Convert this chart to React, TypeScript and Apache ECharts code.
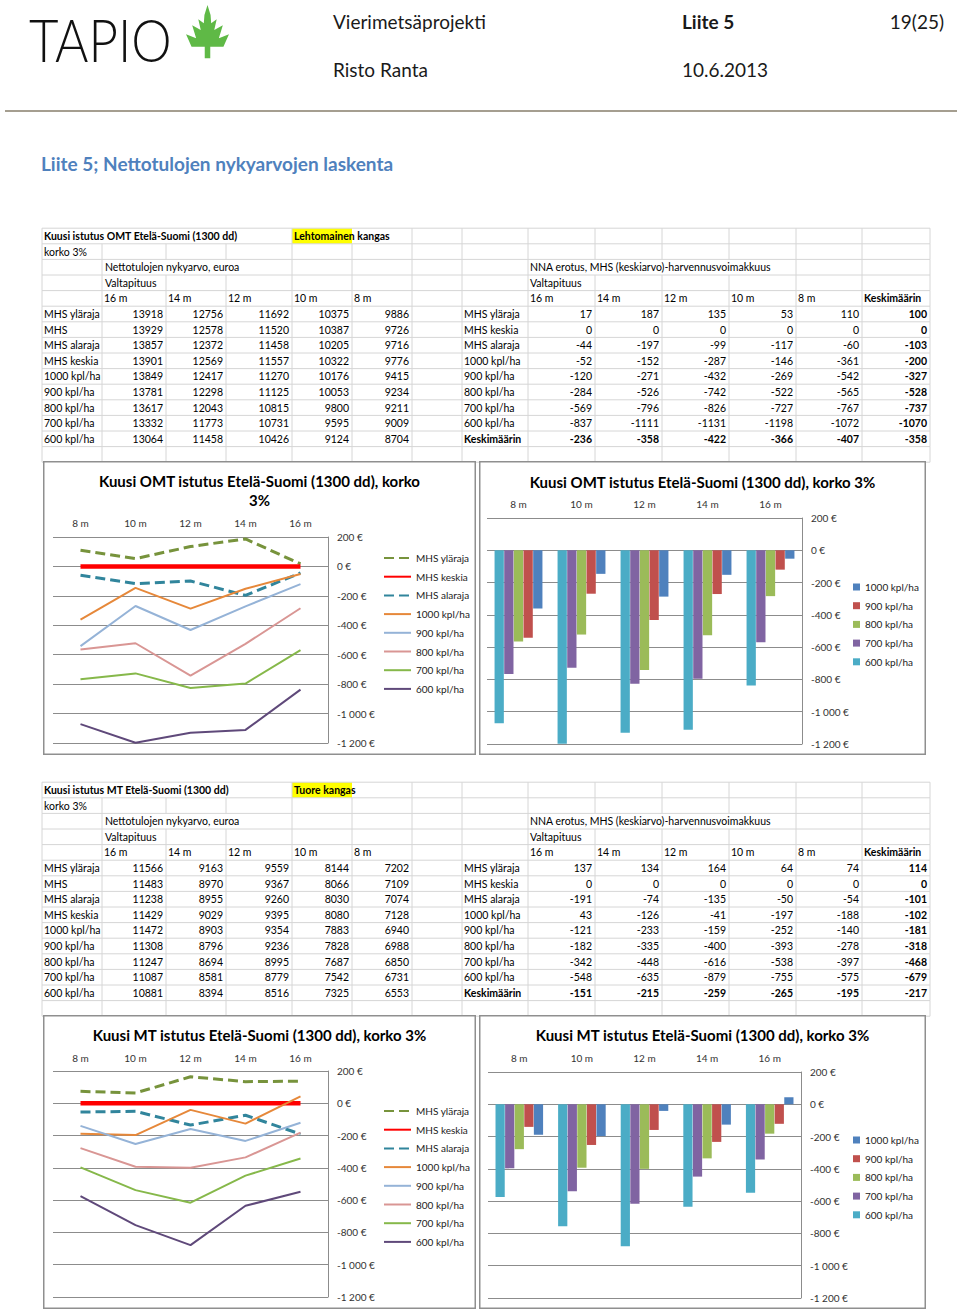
import React, { useEffect, useRef } from "react";
import * as echarts from "echarts";

// ---------- DATA ----------
const HEIGHTS = ["16 m", "14 m", "12 m", "10 m", "8 m"];
const CHART_CATS = [...HEIGHTS].reverse();
const NPV_LABELS = ["MHS yläraja", "MHS", "MHS alaraja", "MHS keskia", "1000 kpl/ha", "900 kpl/ha", "800 kpl/ha", "700 kpl/ha", "600 kpl/ha"];
const DIFF_LABELS = ["MHS yläraja", "MHS keskia", "MHS alaraja", "1000 kpl/ha", "900 kpl/ha", "800 kpl/ha", "700 kpl/ha", "600 kpl/ha", "Keskimäärin"];

const OMT_NPV = [
  [13918, 12756, 11692, 10375, 9886],
  [13929, 12578, 11520, 10387, 9726],
  [13857, 12372, 11458, 10205, 9716],
  [13901, 12569, 11557, 10322, 9776],
  [13849, 12417, 11270, 10176, 9415],
  [13781, 12298, 11125, 10053, 9234],
  [13617, 12043, 10815, 9800, 9211],
  [13332, 11773, 10731, 9595, 9009],
  [13064, 11458, 10426, 9124, 8704],
];
const OMT_DIFF = [
  [17, 187, 135, 53, 110, 100],
  [0, 0, 0, 0, 0, 0],
  [-44, -197, -99, -117, -60, -103],
  [-52, -152, -287, -146, -361, -200],
  [-120, -271, -432, -269, -542, -327],
  [-284, -526, -742, -522, -565, -528],
  [-569, -796, -826, -727, -767, -737],
  [-837, -1111, -1131, -1198, -1072, -1070],
  [-236, -358, -422, -366, -407, -358],
];
const MT_NPV = [
  [11566, 9163, 9559, 8144, 7202],
  [11483, 8970, 9367, 8066, 7109],
  [11238, 8955, 9260, 8030, 7074],
  [11429, 9029, 9395, 8080, 7128],
  [11472, 8903, 9354, 7883, 6940],
  [11308, 8796, 9236, 7828, 6988],
  [11247, 8694, 8995, 7687, 6850],
  [11087, 8581, 8779, 7542, 6731],
  [10881, 8394, 8516, 7325, 6553],
];
const MT_DIFF = [
  [137, 134, 164, 64, 74, 114],
  [0, 0, 0, 0, 0, 0],
  [-191, -74, -135, -50, -54, -101],
  [43, -126, -41, -197, -188, -102],
  [-121, -233, -159, -252, -140, -181],
  [-182, -335, -400, -393, -278, -318],
  [-342, -448, -616, -538, -397, -468],
  [-548, -635, -879, -755, -575, -679],
  [-151, -215, -259, -265, -195, -217],
];

// ---------- STYLES ----------
const FF = "Lato, 'Open Sans', sans-serif";
const LINE_STYLES: any[] = [
  { color: "#77933c", width: 3, type: [10, 5] },
  { color: "#ff0000", width: 4.5, type: "solid" },
  { color: "#31859c", width: 3, type: [10, 5] },
  { color: "#e6883a", width: 2, type: "solid" },
  { color: "#95b3d7", width: 2, type: "solid" },
  { color: "#d99694", width: 2, type: "solid" },
  { color: "#86b84a", width: 2, type: "solid" },
  { color: "#5f497a", width: 2, type: "solid" },
];
const BAR_COLORS: Record<number, string> = { 3: "#4f81bd", 4: "#c0504d", 5: "#9bbb59", 6: "#8064a2", 7: "#4bacc6" };

const RH = 15.6;
const EDGES = [42, 102, 166, 226, 292, 352, 412, 462, 528, 595, 662, 729, 796, 862, 930];
const COLS_L = [42, 102, 166, 226, 292, 352, 412];
const COLS_R = [462, 528, 595, 662, 729, 796, 862, 930];

function fmtEuro(v: number) {
  const s = Math.abs(v).toString().replace(/\B(?=(\d{3})+(?!\d))/g, " ");
  return (v < 0 ? "-" : "") + s + " €";
}

function txt(text: string, x: number, y: number, size: number, opts: any = {}) {
  const align = opts.align || "left";
  const weight = opts.bold ? "bold" : opts.weight || "normal";
  return {
    type: "text",
    x,
    y,
    silent: true,
    z: 5,
    scaleX: opts.scaleX || 1,
    scaleY: opts.scaleY || 1,
    style: {
      text,
      font: `${weight} ${size}px ${FF}`,
      fill: opts.color || "#000",
      textAlign: align,
      align,
      textVerticalAlign: "middle",
      verticalAlign: "middle",
    },
  };
}
function ln(x1: number, y1: number, x2: number, y2: number, color = "#d6d6d6", w = 1) {
  return { type: "line", silent: true, z: 1, shape: { x1, y1, x2, y2 }, style: { stroke: color, lineWidth: w } };
}

function tableElements(T0: number, title: string, site: string, npv: number[][], diff: number[][]) {
  const els: any[] = [];
  const rowY = (i: number) => T0 + i * RH;
  const mid = (i: number) => T0 + (i + 0.5) * RH;
  els.push({ type: "rect", silent: true, z: 0, shape: { x: 292, y: rowY(0), width: 60, height: RH }, style: { fill: "#ffff00" } });
  for (let i = 0; i <= 15; i++) els.push(ln(42, rowY(i), 930, rowY(i)));
  const skip: Record<number, number[]> = { 0: [102, 166, 226, 352], 2: [166, 226, 595, 662, 729] };
  for (let i = 0; i < 15; i++) {
    for (const e of EDGES) {
      if ((skip[i] || []).includes(e)) continue;
      els.push(ln(e, rowY(i), e, rowY(i + 1)));
    }
  }
  const fs = 10.5;
  els.push(txt(title, 44, mid(0), fs, { bold: true }));
  els.push(txt(site, 294, mid(0), fs, { bold: true }));
  els.push(txt("korko 3%", 44, mid(1), fs));
  els.push(txt("Nettotulojen nykyarvo, euroa", 105, mid(2), fs));
  els.push(txt("NNA erotus, MHS (keskiarvo)-harvennusvoimakkuus", 530, mid(2), fs));
  els.push(txt("Valtapituus", 105, mid(3), fs));
  els.push(txt("Valtapituus", 530, mid(3), fs));
  HEIGHTS.forEach((h, c) => {
    els.push(txt(h, COLS_L[c + 1] + 2, mid(4), fs));
    els.push(txt(h, COLS_R[c + 1] + 2, mid(4), fs));
  });
  els.push(txt("Keskimäärin", 864, mid(4), fs, { bold: true }));
  NPV_LABELS.forEach((lab, r) => {
    els.push(txt(lab, 44, mid(5 + r), fs));
    npv[r].forEach((v, c) => els.push(txt(String(v), COLS_L[c + 2] - 3, mid(5 + r), fs, { align: "right" })));
  });
  DIFF_LABELS.forEach((lab, r) => {
    const lastRow = r === DIFF_LABELS.length - 1;
    els.push(txt(lab, 464, mid(5 + r), fs, { bold: lastRow }));
    diff[r].forEach((v, c) =>
      els.push(txt(String(v), COLS_R[c + 2] - 3, mid(5 + r), fs, { align: "right", bold: lastRow || c === 5 }))
    );
  });
  return els;
}

// tree logo outline (zoomed reference coords -> page coords)
const TREE_Z = [
  [88, 15], [98, 45], [100, 70], [118, 58], [110, 90], [138, 76], [125, 115], [158, 103], [140, 140], [97, 140], [97, 175],
  [79, 175], [79, 140], [36, 140], [18, 103], [51, 115], [38, 76], [66, 90], [58, 58], [76, 70], [78, 45],
];

function pageOption() {
  const els: any[] = [];
  els.push({ type: "rect", silent: true, z: -1, shape: { x: 0, y: 0, width: 960, height: 1312 }, style: { fill: "#fff" } });
  els.push(txt("TAPIO", 29, 39, 51, { weight: "300", color: "#111", scaleY: 1.17 }));
  els.push({
    type: "polygon",
    silent: true,
    z: 5,
    shape: { points: TREE_Z.map(([zx, zy]) => [207.5 + ((zx - 88) / 3) * 0.92, zy / 3]) },
    style: { fill: "#5fb946" },
  });
  els.push(txt("Vierimetsäprojekti", 333, 21, 19, { color: "#1a1a1a" }));
  els.push(txt("Liite 5", 682, 21, 19, { bold: true, color: "#1a1a1a" }));
  els.push(txt("19(25)", 944, 21, 19, { align: "right", color: "#1a1a1a" }));
  els.push(txt("Risto Ranta", 333, 69, 19, { color: "#1a1a1a" }));
  els.push(txt("10.6.2013", 682, 69, 19, { color: "#1a1a1a" }));
  els.push(ln(5, 111, 957, 111, "#a59e90", 2));
  els.push(txt("Liite 5; Nettotulojen nykyarvojen laskenta", 41, 163, 19, { bold: true, color: "#4f81bd" }));
  els.push(...tableElements(228.2, "Kuusi istutus OMT Etelä-Suomi (1300 dd)", "Lehtomainen kangas", OMT_NPV, OMT_DIFF));
  els.push(...tableElements(782.2, "Kuusi istutus MT Etelä-Suomi (1300 dd)", "Tuore kangas", MT_NPV, MT_DIFF));
  return { animation: false, graphic: els };
}

function boxGraphic(w: number, h: number) {
  return [
    {
      type: "rect",
      silent: true,
      z: 100,
      shape: { x: 0.75, y: 0.75, width: w - 1.5, height: h - 1.5 },
      style: { fill: "none", stroke: "#8f8f8f", lineWidth: 1.5 },
    },
  ];
}

const axisLabelStyle = { fontSize: 10, color: "#333", fontFamily: FF };

function valueAxis() {
  return {
    type: "value",
    position: "right",
    min: -1200,
    max: 200,
    interval: 200,
    axisLine: { show: true, lineStyle: { color: "#8c8c8c" } },
    axisTick: { show: false },
    splitLine: { lineStyle: { color: "#8c8c8c" } },
    axisLabel: { ...axisLabelStyle, margin: 9, formatter: fmtEuro },
  };
}
function catAxis(margin: number) {
  return {
    type: "category",
    data: CHART_CATS,
    position: "top",
    axisLine: { show: false },
    axisTick: { show: false },
    axisLabel: { ...axisLabelStyle, margin },
  };
}
function titleOpt(text: string, top: number) {
  return {
    text,
    left: "center",
    top,
    padding: 0,
    textStyle: { fontSize: 15, fontWeight: "bold", color: "#000", lineHeight: 19, fontFamily: FF },
  };
}

function lineOption(title: string, diff: number[][], L: any) {
  const names = DIFF_LABELS.slice(0, 8);
  return {
    animation: false,
    backgroundColor: "#fff",
    textStyle: { fontFamily: FF },
    title: titleOpt(title, L.titleTop),
    graphic: boxGraphic(L.w, L.h),
    grid: L.grid,
    legend: {
      orient: "vertical",
      left: L.legendLeft,
      top: L.legendTop,
      padding: 0,
      itemWidth: 27,
      itemHeight: 12,
      itemGap: 6.7,
      data: names,
      itemStyle: { opacity: 0 },
      textStyle: { fontSize: 10, color: "#222", fontFamily: FF, lineHeight: 12 },
    },
    xAxis: catAxis(L.catMargin),
    yAxis: valueAxis(),
    series: names.map((n, i) => ({
      type: "line",
      name: n,
      data: diff[i].slice(0, 5).reverse(),
      symbol: "none",
      lineStyle: { ...LINE_STYLES[i], cap: "butt" },
      itemStyle: { color: LINE_STYLES[i].color },
    })),
  };
}

function barOption(title: string, diff: number[][], L: any) {
  const idx = [7, 6, 5, 4, 3];
  return {
    animation: false,
    backgroundColor: "#fff",
    textStyle: { fontFamily: FF },
    title: titleOpt(title, L.titleTop),
    graphic: boxGraphic(L.w, L.h),
    grid: L.grid,
    legend: {
      orient: "vertical",
      left: L.legendLeft,
      top: L.legendTop,
      padding: 0,
      icon: "rect",
      itemWidth: 7,
      itemHeight: 7,
      itemGap: 6.7,
      data: [3, 4, 5, 6, 7].map((i) => DIFF_LABELS[i]),
      textStyle: { fontSize: 10, color: "#222", fontFamily: FF, lineHeight: 12 },
    },
    xAxis: catAxis(L.catMargin),
    yAxis: valueAxis(),
    series: idx.map((i) => ({
      type: "bar",
      name: DIFF_LABELS[i],
      data: diff[i].slice(0, 5).reverse(),
      barGap: "4%",
      barCategoryGap: "24%",
      itemStyle: { color: BAR_COLORS[i] },
    })),
  };
}

const BOXES = [
  { left: 43, top: 461, w: 433, h: 294 },
  { left: 479, top: 461, w: 447, h: 294 },
  { left: 43, top: 1015, w: 433, h: 294 },
  { left: 479, top: 1015, w: 447, h: 294 },
];

export default function App() {
  const bgRef = useRef<HTMLDivElement>(null);
  const r1 = useRef<HTMLDivElement>(null);
  const r2 = useRef<HTMLDivElement>(null);
  const r3 = useRef<HTMLDivElement>(null);
  const r4 = useRef<HTMLDivElement>(null);

  useEffect(() => {
    const charts: any[] = [];
    const bg = echarts.init(bgRef.current!, null, { renderer: "svg" });
    bg.setOption(pageOption());
    charts.push(bg);

    const c1 = echarts.init(r1.current!, null, { renderer: "svg" });
    c1.setOption(
      lineOption("Kuusi OMT istutus Etelä-Suomi (1300 dd), korko\n3%", OMT_DIFF, {
        w: 433, h: 294, titleTop: 10, catMargin: 9,
        grid: { left: 10, top: 76, width: 275, height: 206 },
        legendLeft: 340, legendTop: 91,
      })
    );
    charts.push(c1);

    const c2 = echarts.init(r2.current!, null, { renderer: "svg" });
    c2.setOption(
      barOption("Kuusi OMT istutus Etelä-Suomi (1300 dd), korko 3%", OMT_DIFF, {
        w: 447, h: 294, titleTop: 11, catMargin: 9,
        grid: { left: 8, top: 57, width: 315, height: 226 },
        legendLeft: 374, legendTop: 120,
      })
    );
    charts.push(c2);

    const c3 = echarts.init(r3.current!, null, { renderer: "svg" });
    c3.setOption(
      lineOption("Kuusi MT istutus Etelä-Suomi (1300 dd), korko 3%", MT_DIFF, {
        w: 433, h: 294, titleTop: 10, catMargin: 8,
        grid: { left: 10, top: 56, width: 275, height: 226 },
        legendLeft: 340, legendTop: 90,
      })
    );
    charts.push(c3);

    const c4 = echarts.init(r4.current!, null, { renderer: "svg" });
    c4.setOption(
      barOption("Kuusi MT istutus Etelä-Suomi (1300 dd), korko 3%", MT_DIFF, {
        w: 447, h: 294, titleTop: 10, catMargin: 9,
        grid: { left: 9, top: 57, width: 313, height: 226 },
        legendLeft: 374, legendTop: 119,
      })
    );
    charts.push(c4);

    return () => charts.forEach((c) => c.dispose());
  }, []);

  const refs = [r1, r2, r3, r4];
  return (
    <div style={{ position: "absolute", left: 0, top: 0, width: 960, height: 1312, background: "#fff", overflow: "hidden" }}>
      <div ref={bgRef} style={{ position: "absolute", left: 0, top: 0, width: 960, height: 1312 }} />
      {BOXES.map((b, i) => (
        <div key={i} ref={refs[i]} style={{ position: "absolute", left: b.left, top: b.top, width: b.w, height: b.h }} />
      ))}
    </div>
  );
}
